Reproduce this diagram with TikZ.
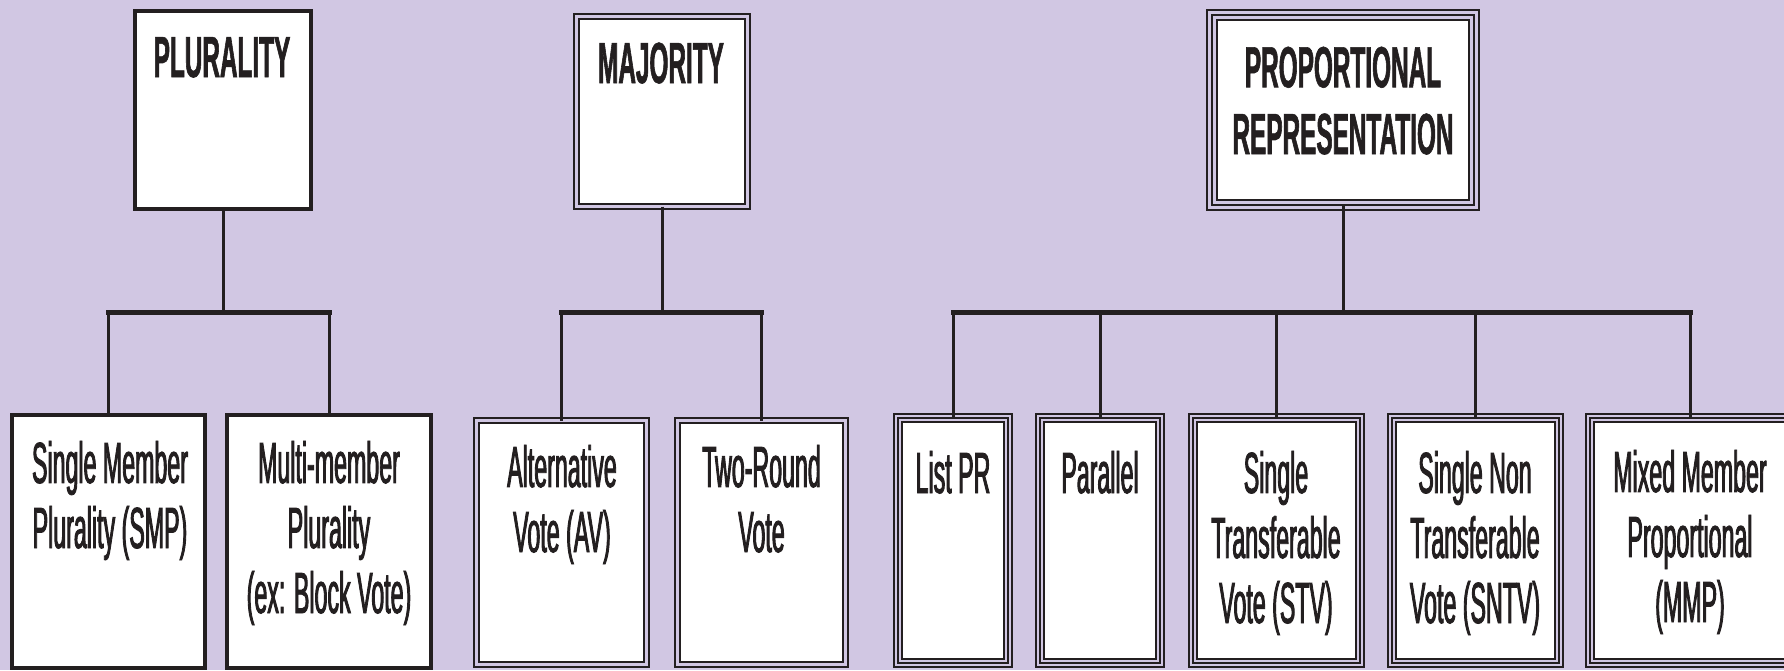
\documentclass[tikz,border=0pt]{standalone}
\usepackage{fontspec}
\setmainfont{Liberation Sans}[FakeStretch=0.41]
\newfontfamily\lowfont{Liberation Sans}[FakeStretch=0.40, FakeBold=1.5]
\newfontfamily\headfont{Liberation Sans Bold}[FakeStretch=0.42, FakeBold=1]
\usetikzlibrary{positioning}

\definecolor{lavender}{RGB}{209,199,227}
\definecolor{ink}{RGB}{35,31,32}

\tikzset{
  plurbox/.style={draw=ink, fill=white, line width=0.8mm, outer sep=0pt, inner sep=0pt},
  majbox/.style={draw=ink, fill=white, line width=0.4mm, double=lavender,
    double distance=0.6mm, outer sep=0pt, inner sep=0pt},
  prbox/.style={draw=ink, fill=white, line width=0.4mm, double=lavender,
    double distance=1.2mm, outer sep=0pt, inner sep=0pt,
    postaction={draw=ink, line width=0.4mm}},
  headtxt/.style={font=\headfont\fontsize{33}{38}\selectfont, text=ink,
    align=center, inner sep=0pt, anchor=base},
  lowtxt/.style={font=\lowfont\fontsize{33}{37}\selectfont, text=ink,
    align=center, inner sep=0pt, anchor=base},
  stem/.style={draw=ink, line width=0.6mm},
  rail/.style={draw=ink, line width=1mm, line cap=rect}
}

\begin{document}
\begin{tikzpicture}[x=0.2mm, y=-0.2mm]
    \fill [lavender] (0, 0) rectangle (1784, 670);
    \useasboundingbox (0, 0) rectangle (1784, 670);

    % families
    \node [plurbox, minimum width=35.2mm, minimum height=39.6mm] (plur) at (223, 110) {};
    \node [majbox, minimum width=34.2mm, minimum height=38mm] (maj) at (662, 111.5) {};
    \node [prbox, double distance=1.6mm, postaction={line width=0.45mm},
      minimum width=52.4mm, minimum height=38mm] (pr) at (1343, 110) {};

    % text anchors sit on the last baseline
    \node [headtxt] (plur-t) at (222, 77) {PLURALITY};
    \node [headtxt] (maj-t) at (661, 83) {MAJORITY};
    \node [headtxt] (pr-t) at (1343, 154) {PROPORTIONAL\\REPRESENTATION};

    % systems
    \node [plurbox, minimum width=38.6mm, minimum height=50.6mm] (smp) at (108.5, 541.5) {};
    \node [plurbox, minimum width=40.8mm, minimum height=50.6mm] (mbp) at (329, 541.5) {};

    \node [majbox, minimum width=34mm, minimum height=48.8mm] (av) at (561.5, 542.5) {};
    \node [majbox, minimum width=33.6mm, minimum height=48.8mm] (tr) at (761.5, 542.5) {};

    \node [prbox, minimum width=22mm, minimum height=49mm] (list) at (953, 540.5) {};
    \node [prbox, minimum width=24mm, minimum height=49mm] (par) at (1100, 540.5) {};
    \node [prbox, minimum width=33.4mm, minimum height=49mm] (stv) at (1276.5, 540.5) {};
    \node [prbox, minimum width=33.4mm, minimum height=49mm] (sntv) at (1475.5, 540.5) {};
    \node [prbox, minimum width=40mm, minimum height=49mm] (mmp) at (1690, 540.5) {};

    \node [lowtxt] (smp-t) at (110, 548) {Single Member\\Plurality (SMP)};
    \node [lowtxt] (mbp-t) at (329, 613) {Multi-member\\Plurality\\(ex: Block Vote)};
    \node [lowtxt] (av-t) at (562, 552) {Alternative\\Vote (AV)};
    \node [lowtxt] (tr-t) at (761.5, 552) {Two-Round\\Vote};
    \node [lowtxt] (list-t) at (953, 493) {List PR};
    \node [lowtxt] (par-t) at (1100, 493) {Parallel};
    \node [lowtxt] (stv-t) at (1276, 623) {Single\\Transferable\\Vote (STV)};
    \node [lowtxt] (sntv-t) at (1475, 623) {Single Non\\Transferable\\Vote (SNTV)};
    \node [lowtxt] (mmp-t) at (1690, 622) {Mixed Member\\Proportional\\(MMP)};

    % tree lines
    \coordinate (lvl) at (0, 312);

    \draw [stem] (plur.south) -- (plur.south |- lvl);
    \draw [rail] (smp.north |- lvl) -- (mbp.north |- lvl);
    \draw [stem] (smp.north |- lvl) -- (smp.north);
    \draw [stem] (mbp.north |- lvl) -- (mbp.north);

    \draw [stem] (maj.south) -- (maj.south |- lvl);
    \draw [rail] (av.north |- lvl) -- (tr.north |- lvl);
    \draw [stem] (av.north |- lvl) -- (av.north);
    \draw [stem] (tr.north |- lvl) -- (tr.north);

    \draw [stem] (pr.south) -- (pr.south |- lvl);
    \draw [rail] (list.north |- lvl) -- (mmp.north |- lvl);
    \draw [stem] (list.north |- lvl) -- (list.north);
    \draw [stem] (par.north |- lvl) -- (par.north);
    \draw [stem] (stv.north |- lvl) -- (stv.north);
    \draw [stem] (sntv.north |- lvl) -- (sntv.north);
    \draw [stem] (mmp.north |- lvl) -- (mmp.north);
\end{tikzpicture}
\end{document}
